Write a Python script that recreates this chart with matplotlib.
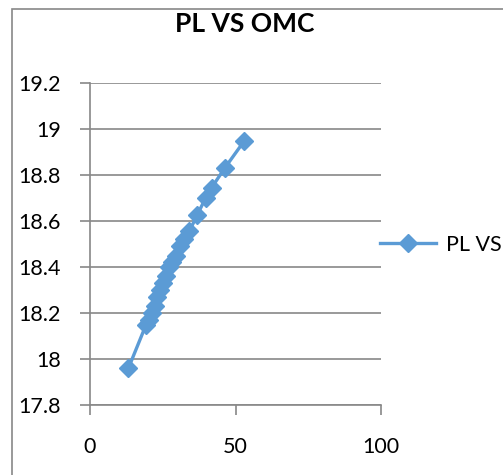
import matplotlib
matplotlib.use("Agg")
import matplotlib.pyplot as plt
from matplotlib.patches import Rectangle

omc = [13.2, 19.2, 20.2, 21.3, 22.3, 23.0, 24.0, 25.1, 26.1, 27.2, 28.2, 29.6, 31.0, 32.4, 34.1, 36.9, 39.7, 41.8, 46.3, 53.0]
pl = [17.96, 18.147, 18.17, 18.20, 18.23, 18.27, 18.30, 18.33, 18.36, 18.40, 18.42, 18.45, 18.49, 18.52, 18.555, 18.627, 18.70, 18.745, 18.83, 18.948]
series_name = "PL VS OMC"
title = "PL VS OMC"
xticks = [0, 50, 100]
yticks = [17.8, 18, 18.2, 18.4, 18.6, 18.8, 19, 19.2]
ylabels = ["17.8", "18", "18.2", "18.4", "18.6", "18.8", "19", "19.2"]

plt.rcParams['font.family'] = ['Lato', 'DejaVu Sans']
fig = plt.figure(figsize=(5.03, 4.75), dpi=100)
fig.patches.append(Rectangle((12/503, -0.1), 1.2, 1.1 - 9/475, transform=fig.transFigure,
                             fill=False, edgecolor='#888888', linewidth=1.2))
ax = fig.add_axes([90/503, 1 - 405/475, (381 - 90)/503, (405 - 83)/475])
ax.plot(omc, pl, color='#5B9BD5', linewidth=2.4, marker='D', markersize=9,
        markerfacecolor='#5B9BD5', markeredgecolor='#5B9BD5', label=series_name)
ax.set_xlim(0, 100)
ax.set_ylim(17.8, 19.2)
ax.set_xticks(xticks)
ax.set_yticks(yticks)
ax.set_yticklabels(ylabels)
ax.grid(axis='y', color='#888888', linewidth=1.2)
ax.set_axisbelow(True)
for s in ['top', 'right']:
    ax.spines[s].set_visible(False)
for s in ['left', 'bottom']:
    ax.spines[s].set_color('#888888')
    ax.spines[s].set_linewidth(1.2)
ax.tick_params(axis='both', colors='#888888', labelcolor='black', labelsize=15.5, length=7, width=1.2)
ax.tick_params(axis='y', pad=14)
ax.tick_params(axis='x', pad=16)
fig.text(245/503, 1 - 24/475, title, fontsize=19, fontweight='bold', ha='center', va='center')
leg = ax.legend(loc='center left', bbox_to_anchor=(1.0 - 10/291, (245 - 405) / (83 - 405)), frameon=False,
                fontsize=15.5, handlelength=2.6, borderaxespad=0.0, handletextpad=0.5)
fig.savefig("out.png", dpi=100)
